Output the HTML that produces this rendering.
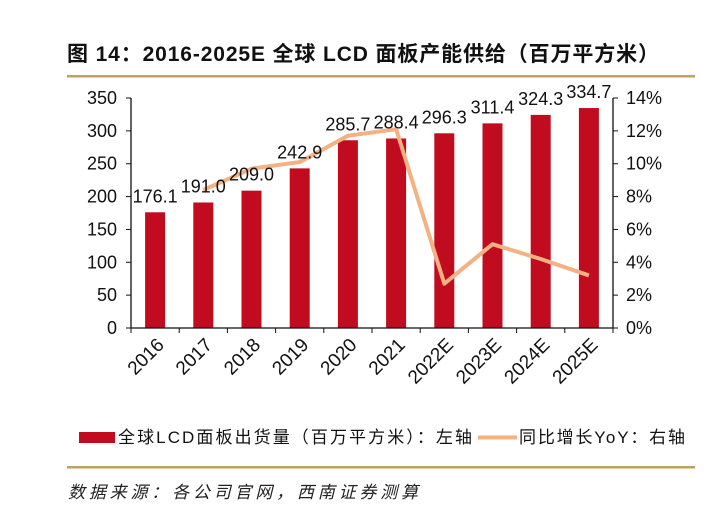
<!DOCTYPE html>
<html><head><meta charset="utf-8"><style>
body{margin:0;background:#fff;}
svg{display:block;font-family:"Liberation Sans","Noto Sans CJK SC",sans-serif;}
</style></head><body>
<svg width="717" height="512" viewBox="0 0 717 512">
<text x="67" y="61" font-size="21" font-weight="bold" fill="#111" textLength="592" lengthAdjust="spacing">图 14：2016-2025E 全球 LCD 面板产能供给（百万平方米）</text>
<rect x="67" y="75" width="628" height="2.5" fill="#BFA064"/>
<g id="plot"></g>
<g>
<rect x="79" y="432" width="36" height="11" fill="#C00C1E"/>
<text x="118" y="443" font-size="17" fill="#111" textLength="354" lengthAdjust="spacing">全球LCD面板出货量（百万平方米）：左轴</text>
<line x1="478" y1="437.5" x2="517" y2="437.5" stroke="#F4B183" stroke-width="4"/>
<text x="519" y="443" font-size="17" fill="#111" textLength="166" lengthAdjust="spacing">同比增长YoY：右轴</text>
</g>
<rect x="67" y="466" width="628" height="2.5" fill="#BFA064"/>
<text x="68" y="498" font-size="17" font-style="italic" fill="#222" textLength="350" lengthAdjust="spacing">数据来源：各公司官网，西南证券测算</text>
</svg>
<script>
const categories=["2016","2017","2018","2019","2020","2021","2022E","2023E","2024E","2025E"];
const shipments=[176.1,191.0,209.0,242.9,285.7,288.4,296.3,311.4,324.3,334.7];
const yoy=[null,8.4,9.7,10.1,11.7,12.1,2.7,5.1,4.2,3.2];
const leftTicks=[0,50,100,150,200,250,300,350];
const rightTicks=[0,2,4,6,8,10,12,14];
const ns="http://www.w3.org/2000/svg";
const g=document.getElementById('plot');
const X0=131,X1=613,Y0=328,Y1=98;
const band=(X1-X0)/categories.length;
const xc=i=>X0+band*(i+0.5);
const yL=v=>Y0-(v/350)*(Y0-Y1);
const yR=v=>Y0-(v/14)*(Y0-Y1);
function mk(t,a){const e=document.createElementNS(ns,t);for(const k in a)e.setAttribute(k,a[k]);g.appendChild(e);return e;}
shipments.forEach((v,i)=>{
 const r=mk('rect',{x:xc(i)-10,y:yL(v),width:20,height:Y0-yL(v),fill:'#C00C1E'});
 
 
});
const pts=[];yoy.forEach((v,i)=>{if(v!==null)pts.push(xc(i)+','+yR(v));});
const pl=mk('polyline',{points:pts.join(' '),fill:'none',stroke:'#F4B183','stroke-width':4,'stroke-linejoin':'round'});


shipments.forEach((v,i)=>{
 const t=mk('text',{x:xc(i),y:yL(v)-10,'font-size':18,'text-anchor':'middle',fill:'#111'});t.textContent=v.toFixed(1);
 
 
});
const ax=mk('path',{d:`M${X0},${Y1}V${Y0}H${X1}V${Y1}`,fill:'none',stroke:'#111','stroke-width':1.3});


leftTicks.forEach(v=>{
 mk('line',{x1:X0-5,x2:X0,y1:yL(v),y2:yL(v),stroke:'#111'});
 const t=mk('text',{x:X0-14,y:yL(v)+6,'font-size':18,'text-anchor':'end',fill:'#111'});t.textContent=v;
 
 
});
rightTicks.forEach(v=>{
 mk('line',{x1:X1,x2:X1+5,y1:yR(v),y2:yR(v),stroke:'#111'});
 const t=mk('text',{x:X1+13,y:yR(v)+6,'font-size':18,fill:'#111'});t.textContent=v+'%';
 
 
});
for(let i=0;i<=categories.length;i++)mk('line',{x1:X0+band*i,x2:X0+band*i,y1:Y0,y2:Y0+5,stroke:'#111'});
categories.forEach((c,i)=>{
 const x=xc(i)+10,y=Y0+18;
 const t=mk('text',{x:x,y:y,'font-size':19,'text-anchor':'end',fill:'#111',transform:`rotate(-45 ${x} ${y})`});t.textContent=c;
 
 
});
</script>
</body></html>
